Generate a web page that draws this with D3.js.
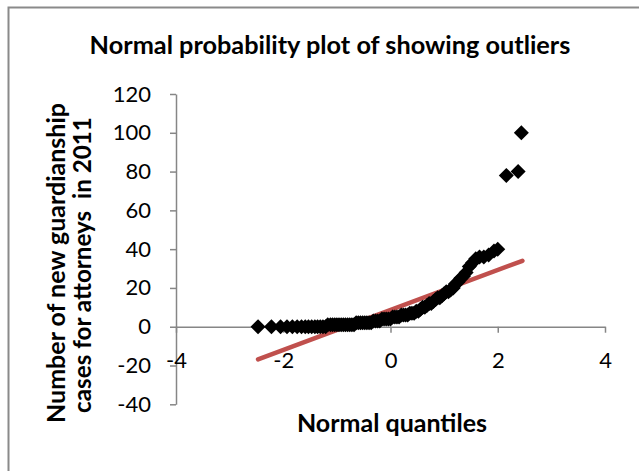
<!DOCTYPE html>
<html>
<head>
<meta charset="utf-8">
<script src="https://cdn.jsdelivr.net/npm/d3@7"></script>
<style>
  html, body { margin: 0; padding: 0; background: #fff; }
  svg { display: block; }
</style>
</head>
<body>
<svg id="chart" width="639" height="471"></svg>
<script>
// ---------------- data ----------------
const title = "Normal probability plot of showing outliers";
const yTitleLines = ["Number of new guardianship", "cases for attorneys  in 2011"];
const xTitle = "Normal quantiles";

const xTicks = [-4, -2, 0, 2, 4];
const yTicks = [-40, -20, 0, 20, 40, 60, 80, 100, 120];

// normal quantiles (x) and observed counts (y)
const quantiles = [
  -2.47, -2.22, -2.05, -1.93, -1.83, -1.74, -1.66, -1.59, -1.53, -1.47,
  -1.41, -1.36, -1.31, -1.26, -1.21, -1.17, -1.12, -1.08, -1.04, -1.00,
  -0.96, -0.92, -0.88, -0.84, -0.80, -0.76, -0.72, -0.68, -0.64, -0.60,
  -0.56, -0.52, -0.48, -0.44, -0.40, -0.36, -0.32, -0.28, -0.24, -0.20,
  -0.16, -0.12, -0.08, -0.04, 0.00, 0.04, 0.08, 0.12, 0.16, 0.20,
  0.24, 0.28, 0.32, 0.36, 0.40, 0.44, 0.48, 0.52, 0.56, 0.60,
  0.64, 0.68, 0.72, 0.76, 0.80, 0.84, 0.88, 0.92, 0.96, 1.00,
  1.04, 1.08, 1.12, 1.17, 1.21, 1.26, 1.31, 1.36, 1.41, 1.47,
  1.53, 1.59, 1.66, 1.74, 1.83, 1.93, 2.00, 2.16, 2.38, 2.44
];
const cases = [
  0, 0, 0, 0, 0, 0, 0, 0, 0, 0,
  0, 0, 0, 0, 0, 1, 1, 1, 1, 1,
  1, 1, 1, 1, 1, 1, 1, 1, 2, 2,
  2, 2, 2, 2, 2, 2, 3, 3, 3, 3,
  4, 4, 4, 4, 4, 5, 5, 5, 5, 6,
  6, 6, 6, 7, 7, 7, 8, 8, 9, 10,
  10, 11, 12, 12, 13, 14, 15, 15, 16, 17,
  18, 18, 19, 20, 22, 23, 25, 26, 28, 31,
  33, 35, 36, 36, 37, 39, 40, 78, 80, 100
];

// reference normal line (end points)
const lineX = [-2.47, 2.46];
const lineY = [-16.8, 34.0];

// ---------------- drawing ----------------
const svg = d3.select("#chart");
const FONT = "Lato, 'Open Sans', sans-serif";
const AXIS_COLOR = "#868686";
const fmt = d => String(d); // plain hyphen-minus, as in the original

// outer chart border (extends beyond the right/bottom of the frame)
svg.append("rect")
  .attr("x", 8.5).attr("y", 7.5)
  .attr("width", 700).attr("height", 600)
  .attr("fill", "none")
  .attr("stroke", "#8a8a8a")
  .attr("stroke-width", 2);

const x = d3.scaleLinear().domain([-4, 4]).range([176, 605]);
const y = d3.scaleLinear().domain([-40, 120]).range([404.3, 94]);

function fitText(sel, targetWidth) {
  const node = sel.node();
  const size = parseFloat(sel.attr("font-size"));
  const w = node.getComputedTextLength();
  if (w > 0) sel.attr("font-size", (size * targetWidth / w).toFixed(2));
}

// y axis
const yAxis = svg.append("g")
  .attr("transform", `translate(${x(-4)},0)`)
  .call(d3.axisLeft(y).tickValues(yTicks).tickFormat(fmt)
    .tickSize(6).tickSizeOuter(0).tickPadding(19));
yAxis.select(".domain").attr("stroke", AXIS_COLOR).attr("stroke-width", 1.5);
yAxis.selectAll(".tick line").attr("stroke", AXIS_COLOR).attr("stroke-width", 1.5);
yAxis.selectAll(".tick text")
  .attr("font-family", FONT).attr("font-size", 22).attr("fill", "#000");

// x axis at y = 0
const xAxis = svg.append("g")
  .attr("transform", `translate(0,${y(0)})`)
  .call(d3.axisBottom(x).tickValues(xTicks).tickFormat(fmt)
    .tickSize(6).tickSizeOuter(0).tickPadding(20));
xAxis.select(".domain").attr("stroke", AXIS_COLOR).attr("stroke-width", 1.5);
xAxis.selectAll(".tick line").attr("stroke", AXIS_COLOR).attr("stroke-width", 1.5);
xAxis.selectAll(".tick text")
  .attr("font-family", FONT).attr("font-size", 22).attr("fill", "#000");

// reference line
const linePts = lineX.map((v, i) => [v, lineY[i]]);
svg.append("path")
  .datum(linePts)
  .attr("d", d3.line().x(d => x(d[0])).y(d => y(d[1])))
  .attr("fill", "none")
  .attr("stroke", "#C0504D")
  .attr("stroke-width", 4.5)
  .attr("stroke-linecap", "round");

// points
const pts = quantiles.map((q, i) => ({ q, v: cases[i] }));
const diamond = "M0,-7.5L7.5,0L0,7.5L-7.5,0Z";
svg.append("g").selectAll("path")
  .data(pts)
  .join("path")
  .attr("d", diamond)
  .attr("transform", d => `translate(${x(d.q)},${y(d.v)})`)
  .attr("fill", "#000");

// title
const t = svg.append("text")
  .attr("x", 330).attr("y", 54)
  .attr("text-anchor", "middle")
  .attr("font-family", FONT).attr("font-weight", "bold").attr("font-size", 22)
  .text(title);
fitText(t, 481);

// x title
const xt = svg.append("text")
  .attr("x", 392).attr("y", 432)
  .attr("text-anchor", "middle")
  .attr("font-family", FONT).attr("font-weight", "bold").attr("font-size", 22)
  .text(xTitle);
fitText(xt, 190);

// y title (two lines, rotated)
const yBase = [65, 91];
const yWidths = [320, 296];
const yCenters = [263, 265];
yTitleLines.forEach((line, i) => {
  const tt = svg.append("text")
    .attr("transform", `translate(${yBase[i]},${yCenters[i]}) rotate(-90)`)
    .attr("text-anchor", "middle")
    .attr("font-family", FONT).attr("font-weight", "bold").attr("font-size", 22)
    .style("white-space", "pre")
    .text(line);
  fitText(tt, yWidths[i]);
});
</script>
</body>
</html>
